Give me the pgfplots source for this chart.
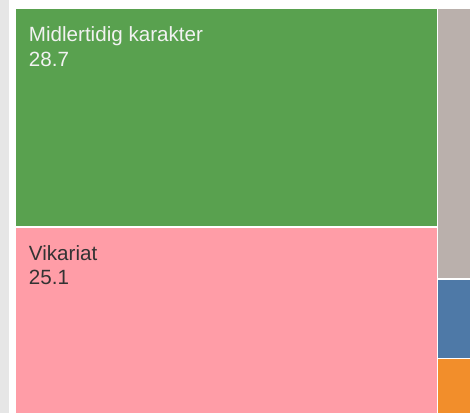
\documentclass[border=0pt]{standalone}
\usepackage{pgfplots}
\pgfplotsset{compat=1.18}
\usepackage{fontspec}
\setmainfont{Liberation Sans}
\definecolor{tgreen}{HTML}{59A14F}
\definecolor{tpink}{HTML}{FF9DA7}
\definecolor{tgray}{HTML}{BAB0AC}
\definecolor{tblue}{HTML}{4E79A7}
\definecolor{torange}{HTML}{F28E2B}
\definecolor{strip}{HTML}{E6E6E6}
\definecolor{darktxt}{HTML}{333333}
\definecolor{lighttxt}{HTML}{F2F2F2}
\tikzset{lbl/.style={anchor=base west, inner sep=0pt, font=\fontsize{20.5}{24}\selectfont}}

\begin{document}
\begin{tikzpicture}
  \begin{axis}[
      scale only axis,
      width=470bp, height=409bp,
      xmin=0, xmax=470, ymin=0, ymax=409,
      y dir=reverse,
      axis lines=none,
      ticks=none,
      clip=true
    ]
    % left grey strip
    \addplot[fill=strip, draw=none] coordinates {(4,0) (13,0) (13,409) (4,409)} -- cycle;
    % Midlertidig karakter 28.7
    \addplot[fill=tgreen, draw=none] coordinates {(20,9) (437,9) (437,224.5) (20,224.5)} -- cycle;
    % Vikariat 25.1
    \addplot[fill=tpink, draw=none] coordinates {(20,226) (437,226) (437,409) (20,409)} -- cycle;
    % right column (cut off)
    \addplot[fill=tgray, draw=none] coordinates {(438.5,9) (470,9) (470,275.5) (438.5,275.5)} -- cycle;
    \addplot[fill=tblue, draw=none] coordinates {(438.5,277.3) (470,277.3) (470,354.7) (438.5,354.7)} -- cycle;
    \addplot[fill=torange, draw=none] coordinates {(438.5,356.3) (470,356.3) (470,409) (438.5,409)} -- cycle;

    \node[lbl, text=lighttxt] at (axis cs:32.5,41) {Midlertidig karakter};
    \node[lbl, text=lighttxt] at (axis cs:32.5,66) {28.7};
    \node[lbl, text=darktxt] at (axis cs:32.5,258.3) {Vikariat};
    \node[lbl, text=darktxt] at (axis cs:32.5,281.7) {25.1};
  \end{axis}
\end{tikzpicture}
\end{document}
